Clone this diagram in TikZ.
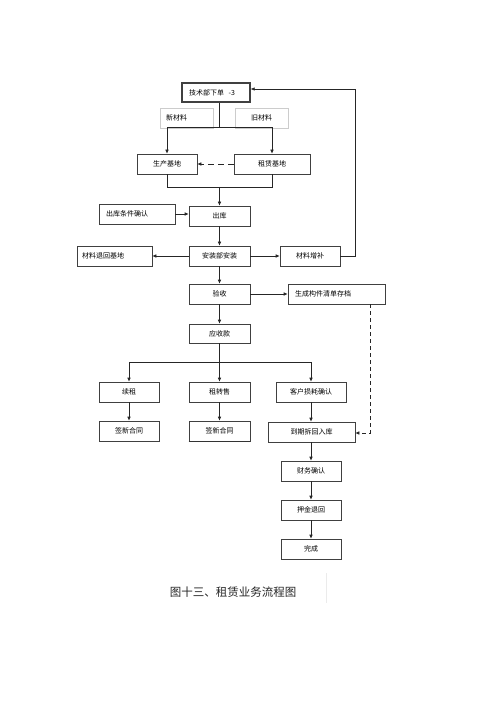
\documentclass[tikz,border=0pt]{standalone}
\usepackage{fontspec}
\newfontfamily\cjk{Noto Sans CJK SC}
\usetikzlibrary{arrows.meta}

\begin{document}
\begin{tikzpicture}[x=1pt,y=-1pt,
    boite/.style={draw=black!75, line width=0.6pt, minimum height=20pt, inner sep=0pt,
      font=\cjk\fontsize{7}{8}\selectfont},
    trait/.style={black!85, line width=0.6pt},
    fl/.style={trait, -{Latex[length=4pt,width=3.5pt]}}]
    \fill[white] (0,0) rectangle (500,708);
    \useasboundingbox (0,0) rectangle (500,708);
    % les boîtes
    \node[boite, minimum width=68pt, minimum height=19pt, line width=1.2pt, text width=54pt, inner xsep=7pt, align=left] (tech) at (216,92.5) {技术部下单\ \ -3};
    \node[boite, minimum width=53pt, draw=black!20, text width=41pt, inner xsep=6pt, align=left] (neuf) at (186.5,118) {新材料};
    \node[boite, minimum width=53pt, draw=black!20] (ancien) at (261.5,118) {旧材料};
    \node[boite, minimum width=60pt] (prod) at (167,164) {生产基地};
    \node[boite, minimum width=76pt] (loc) at (272,164) {租赁基地};
    \node[boite, minimum width=61pt] (sortie) at (219.5,216) {出库};
    \node[boite, minimum width=76pt, text width=62pt, inner xsep=7pt, align=left] (cond) at (137,214) {出库条件确认};
    \node[boite, minimum width=61pt] (pose) at (219.5,256) {安装部安装};
    \node[boite, minimum width=75pt, text width=65pt, inner xsep=5pt, align=left] (retour) at (114.5,256) {材料退回基地};
    \node[boite, minimum width=60pt] (compl) at (310,256) {材料增补};
    \node[boite, minimum width=61pt] (recep) at (219.5,294) {验收};
    \node[boite, minimum width=97pt, text width=83pt, inner xsep=7pt, align=left] (archive) at (336.5,294) {生成构件清单存档};
    \node[boite, minimum width=61pt, minimum height=19pt] (creance) at (219.5,333.5) {应收款};
    \node[boite, minimum width=60pt] (renouv) at (129,392) {续租};
    \node[boite, minimum width=61pt] (vente) at (219.5,392) {租转售};
    \node[boite, minimum width=70pt] (perte) at (311,392) {客户损耗确认};
    \node[boite, minimum width=60pt] (sign1) at (129,431) {签新合同};
    \node[boite, minimum width=61pt] (sign2) at (219.5,431) {签新合同};
    \node[boite, minimum width=87pt] (echeance) at (311.5,432) {到期拆回入库};
    \node[boite, minimum width=60pt] (fin) at (311,471) {财务确认};
    \node[boite, minimum width=60pt] (depot) at (311,510) {押金退回};
    \node[boite, minimum width=60pt] (fini) at (311,549) {完成};
    \draw[line width=1.3pt, black!80] (sign2.south west) -- (sign2.south east);
    % les flèches
    \coordinate (j1) at (219.5,127);
    \draw[trait] (tech.south -| j1) -- (j1);
    \draw[fl] (j1) -| (prod.north);
    \draw[fl] (j1) -| (loc.north);
    \draw[fl, dash pattern=on 6pt off 4pt] (loc) -- (prod);
    \coordinate (j2) at (219.5,187);
    \draw[trait] (prod.south) |- (j2);
    \draw[trait] (loc.south) |- (j2);
    \draw[fl] (j2) -- (sortie);
    \draw[fl] (cond) -- (cond -| sortie.west);
    \draw[fl] (sortie) -- (pose);
    \draw[fl] (pose) -- (retour);
    \draw[fl] (pose) -- (compl);
    \coordinate (r1) at (355,89);
    \draw[fl] (compl.east) -| (r1) -- (r1 -| tech.east);
    \draw[fl] (pose) -- (recep);
    \draw[fl] (recep) -- (archive);
    \draw[fl] (recep) -- (creance);
    \coordinate (j3) at (219.5,362);
    \draw[trait] (creance) -- (j3);
    \draw[fl] (j3) -| (renouv.north);
    \draw[fl] (j3) -- (vente);
    \draw[fl] (j3) -| (perte.north);
    \draw[fl] (renouv) -- (sign1);
    \draw[fl] (vente) -- (sign2);
    \draw[fl] (perte) -- (perte |- echeance.north);
    \coordinate (d1) at (370,433);
    \draw[fl, dash pattern=on 4pt off 3pt] (archive.south -| d1) -- (d1) -- (echeance.east |- d1);
    \draw[fl] (echeance.south -| fin) -- (fin);
    \draw[fl] (fin) -- (depot);
    \draw[fl] (depot) -- (fini);
    % légende
    \node[font=\cjk\fontsize{11.5}{13}\selectfont, black!85] (titre) at (233,592) {图十三、租赁业务流程图};
    \draw[black!8, line width=1pt] (326,573) -- (326,603);
\end{tikzpicture}
\end{document}
